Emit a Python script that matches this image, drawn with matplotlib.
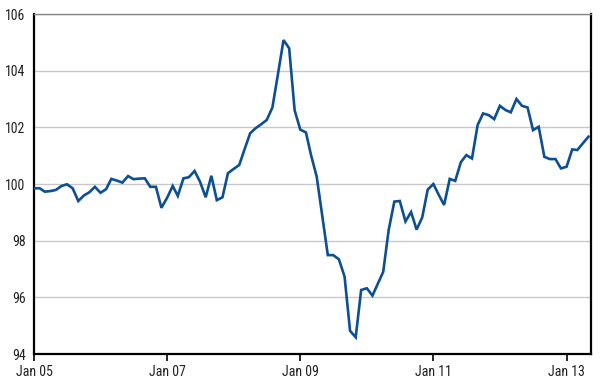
import matplotlib
matplotlib.use("Agg")
import matplotlib.pyplot as plt
from matplotlib import font_manager
import pandas as pd

# pick a regular-weight condensed font if one is installed
def _is_regular(f):
    w = f.weight
    try:
        w = int(w)
    except (TypeError, ValueError):
        w = {"normal": 400, "regular": 400, "book": 400, "medium": 500}.get(str(w).lower(), 700)
    low = f.fname.lower()
    return 350 <= w <= 450 and f.style == "normal" and "bold" not in low and "italic" not in low and "light" not in low and "oblique" not in low

def _is_condensed(f):
    st = f.stretch
    nm = f.name
    if "Narrow" in nm or "Condensed" in nm:
        return True
    if isinstance(st, int):
        return st < 500
    return str(st) in ("condensed", "semi-condensed", "extra-condensed", "ultra-condensed")

_cands = [f for f in font_manager.fontManager.ttflist if _is_condensed(f) and _is_regular(f)]
chosen = None
for pref in ["Liberation Sans Narrow", "Open Sans Condensed", "Roboto Condensed", "Noto Sans Condensed", "DejaVu Sans Condensed", "DejaVu Sans", "Open Sans", "Roboto", "Noto Sans"]:
    for f in _cands:
        if f.name == pref and "mono" not in f.fname.lower():
            chosen = f
            break
    if chosen:
        break
if chosen is None and _cands:
    chosen = _cands[0]
if chosen is not None:
    fp = font_manager.FontProperties(fname=chosen.fname)
    label_size = 10
else:
    fp = font_manager.FontProperties(family=["DejaVu Sans"])
    label_size = 8
fp.set_size(label_size)

start_month = "2005-01-01"
values = [
    99.85, 99.85, 99.73, 99.75, 99.79, 99.93, 99.99, 99.85, 99.40, 99.59,
    99.71, 99.90, 99.69, 99.82, 100.18, 100.12, 100.05, 100.28, 100.17, 100.19,
    100.20, 99.90, 99.90, 99.16, 99.51, 99.93, 99.58, 100.20, 100.24, 100.46,
    100.08, 99.53, 100.29, 99.43, 99.53, 100.38, 100.53, 100.67, 101.22, 101.79,
    101.97, 102.11, 102.26, 102.70, 103.90, 105.08, 104.79, 102.60, 101.92, 101.82,
    101.02, 100.26, 98.90, 97.49, 97.49, 97.34, 96.73, 94.82, 94.59, 96.26,
    96.32, 96.06, 96.46, 96.90, 98.38, 99.38, 99.40, 98.68, 99.01, 98.39,
    98.82, 99.80, 100.00, 99.60, 99.26, 100.18, 100.11, 100.77, 101.02, 100.90,
    102.08, 102.49, 102.43, 102.29, 102.76, 102.61, 102.53, 103.00, 102.76, 102.70,
    101.90, 102.02, 100.96, 100.88, 100.88, 100.55, 100.61, 101.22, 101.20, 101.44,
    101.67,
]
dates = pd.date_range(start_month, periods=len(values), freq="MS")

x_tick_dates = pd.to_datetime(["2005-01-01", "2007-01-01", "2009-01-01", "2011-01-01", "2013-01-01"])
x_tick_labels = ["Jan 05", "Jan 07", "Jan 09", "Jan 11", "Jan 13"]
y_ticks = [94, 96, 98, 100, 102, 104, 106]
y_tick_labels = [str(v) for v in y_ticks]

fig = plt.figure(figsize=(6.0, 3.9), dpi=100)
ax = fig.add_axes([34/600, 1-354/390, (591-34)/600, (354-14)/390])

ax.plot(dates, values, color="#0c4f94", linewidth=1.9, solid_joinstyle="miter", zorder=3)

ax.set_ylim(94, 106)
ax.set_xlim(dates[0], dates[-1] + pd.Timedelta(days=14))
ax.set_yticks(y_ticks)
ax.set_yticklabels(y_tick_labels, fontproperties=fp)
ax.set_xticks(x_tick_dates)
ax.set_xticklabels(x_tick_labels, fontproperties=fp)

ax.yaxis.grid(True, color="#c8c8c8", linewidth=1.0)
ax.set_axisbelow(True)
ax.tick_params(axis="y", length=0, pad=6, colors="#222222")
ax.tick_params(axis="x", length=5, width=1.2, direction="out", pad=3, labelcolor="#222222", color="black")

for side in ["left", "right", "bottom"]:
    ax.spines[side].set_color("black")
    ax.spines[side].set_linewidth(1.6)
ax.spines["top"].set_color("#888888")
ax.spines["top"].set_linewidth(1.0)

fig.savefig("out.png", dpi=100)
